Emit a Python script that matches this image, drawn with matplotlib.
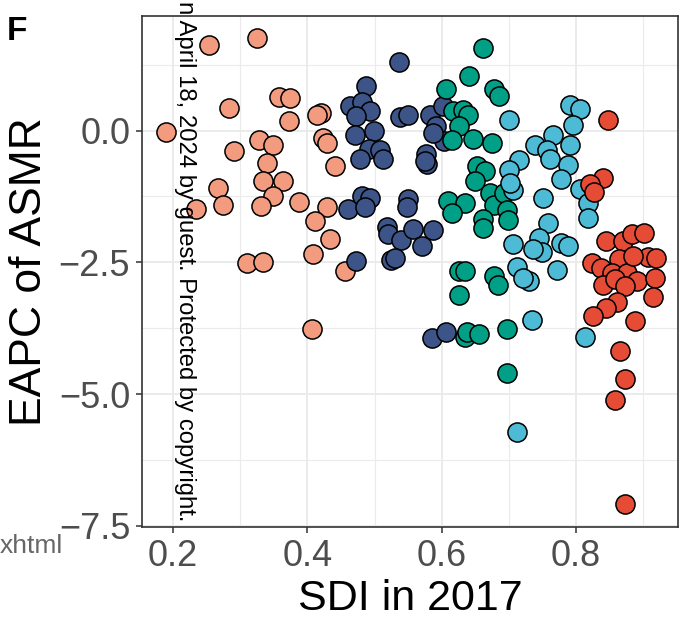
import matplotlib
matplotlib.use("Agg")
import matplotlib.pyplot as plt
from matplotlib.ticker import MultipleLocator

plt.rcParams['font.family'] = ['Liberation Sans', 'DejaVu Sans']

# SDI quintile groups (x = SDI in 2017, y = EAPC of ASMR)
low_x = [0.253, 0.325, 0.358, 0.374, 0.284, 0.421, 0.414, 0.373, 0.190, 0.328,
         0.349, 0.424, 0.429, 0.291, 0.340, 0.441, 0.334, 0.364, 0.267, 0.349,
         0.234, 0.275, 0.331, 0.388, 0.429, 0.411, 0.434, 0.409, 0.310, 0.334,
         0.456, 0.407]
low_y = [1.62, 1.76, 0.64, 0.61, 0.43, 0.34, 0.29, 0.18, -0.02, -0.18,
         -0.28, -0.14, -0.23, -0.39, -0.61, -0.68, -0.95, -0.96, -1.09, -1.24,
         -1.48, -1.42, -1.43, -1.36, -1.45, -1.72, -2.05, -2.34, -2.51, -2.50,
         -2.66, -3.76]

lowmid_x = [0.537, 0.488, 0.463, 0.481, 0.493, 0.473, 0.538, 0.550, 0.583, 0.592,
            0.602, 0.603, 0.587, 0.471, 0.499, 0.492, 0.508, 0.478, 0.513, 0.576,
            0.578, 0.575, 0.481, 0.493, 0.461, 0.486, 0.550, 0.549, 0.519, 0.520,
            0.540, 0.557, 0.570, 0.587, 0.525, 0.530, 0.472, 0.585, 0.607]
lowmid_y = [1.31, 0.84, 0.47, 0.55, 0.37, 0.27, 0.26, 0.30, 0.29, 0.09,
            0.47, -0.20, -0.04, -0.08, -0.01, -0.34, -0.36, -0.54, -0.54, -0.44,
            -0.64, -0.58, -1.24, -1.27, -1.48, -1.45, -1.29, -1.45, -1.82, -1.97,
            -2.08, -1.86, -2.19, -1.89, -2.46, -2.41, -2.48, -3.93, -3.82]

mid_x = [0.662, 0.641, 0.607, 0.677, 0.685, 0.617, 0.632, 0.639, 0.625, 0.615,
         0.647, 0.675, 0.652, 0.664, 0.649, 0.672, 0.677, 0.661, 0.662, 0.692,
         0.697, 0.699, 0.610, 0.635, 0.615, 0.625, 0.635, 0.677, 0.684, 0.626,
         0.697, 0.635, 0.638, 0.655, 0.697]
mid_y = [1.57, 1.04, 0.78, 0.78, 0.65, 0.37, 0.40, 0.30, 0.08, -0.17,
         -0.16, -0.23, -0.68, -0.76, -0.96, -1.18, -1.42, -1.67, -1.84, -1.18,
         -1.50, -1.69, -1.34, -1.38, -1.56, -2.66, -2.66, -2.76, -2.93, -3.12,
         -3.76, -3.91, -3.83, -3.86, -4.60]

highmid_x = [0.700, 0.791, 0.806, 0.795, 0.766, 0.739, 0.756, 0.761, 0.791, 0.715,
             0.700, 0.706, 0.701, 0.788, 0.778, 0.805, 0.818, 0.817, 0.751, 0.758,
             0.744, 0.706, 0.749, 0.736, 0.778, 0.788, 0.712, 0.730, 0.721, 0.772,
             0.735, 0.813, 0.712]
highmid_y = [0.21, 0.49, 0.41, 0.11, -0.08, -0.27, -0.36, -0.54, -0.27, -0.55,
             -0.74, -1.12, -0.99, -0.66, -0.91, -1.10, -1.37, -1.65, -1.27, -1.75,
             -2.03, -2.16, -2.30, -2.25, -2.13, -2.18, -2.58, -2.86, -2.79, -2.65,
             -3.60, -3.91, -5.71]

high_x = [0.848, 0.840, 0.821, 0.827, 0.844, 0.869, 0.883, 0.901, 0.863, 0.907,
          0.919, 0.823, 0.837, 0.853, 0.876, 0.890, 0.918, 0.840, 0.858, 0.873,
          0.915, 0.861, 0.844, 0.825, 0.887, 0.885, 0.865, 0.873, 0.858, 0.873]
high_y = [0.21, -0.90, -1.02, -1.17, -2.10, -2.10, -1.97, -1.94, -2.44, -2.40,
          -2.41, -2.51, -2.60, -2.70, -2.71, -2.85, -2.79, -2.93, -2.82, -2.95,
          -3.15, -3.26, -3.36, -3.52, -3.61, -2.38, -4.18, -4.72, -5.11, -7.08]

groups = [(low_x, low_y, '#F39B7F'),
          (lowmid_x, lowmid_y, '#3C5488'),
          (mid_x, mid_y, '#00A087'),
          (highmid_x, highmid_y, '#4DBBD5'),
          (high_x, high_y, '#E64B35')]

x_ticks = [0.2, 0.4, 0.6, 0.8]
x_labels = ['0.2', '0.4', '0.6', '0.8']
y_ticks = [-7.5, -5.0, -2.5, 0.0]
y_labels = ['\u22127.5', '\u22125.0', '\u22122.5', '0.0']

fig = plt.figure(figsize=(6.83, 6.32), dpi=100)
ax = fig.add_axes([142 / 683, (632 - 527) / 632, (678 - 142) / 683, (527 - 15.7) / 632])

for gx, gy, col in groups:
    ax.scatter(gx, gy, s=190, c=col, edgecolors='black', linewidths=1.1, zorder=3)

ax.set_xlim(0.154, 0.9515)
ax.set_ylim(-7.52, 2.18)
ax.set_xticks(x_ticks)
ax.set_yticks(y_ticks)
ax.set_xticklabels(x_labels)
ax.set_yticklabels(y_labels)
ax.xaxis.set_minor_locator(MultipleLocator(0.1))
ax.yaxis.set_minor_locator(MultipleLocator(1.25))

ax.grid(True, which='major', color='#EBEBEB', linewidth=1.4, zorder=0)
ax.grid(True, which='minor', color='#EBEBEB', linewidth=0.8, zorder=0)
ax.set_axisbelow(True)
for sp in ax.spines.values():
    sp.set_color('#333333')
    sp.set_linewidth(1.2)

ax.tick_params(which='major', length=4.5, width=1.1, color='#333333',
               labelsize=26, labelcolor='#4D4D4D', pad=4)
ax.tick_params(which='minor', length=0)

ax.set_xlabel('SDI in 2017', fontsize=31, color='black', labelpad=4)
ax.set_ylabel('EAPC of ASMR', fontsize=32, color='black', labelpad=6)

fig.text(7 / 683, 1 - 40 / 632, 'F', fontsize=24, fontweight='bold', color='black')
fig.text(185 / 683, 1 - 1 / 632, 'n April 18, 2024 by guest. Protected by copyright.',
         rotation=-90, ha='center', va='top', fontsize=17.2, color='black')
fig.text(0, 1 - 553 / 632, 'xhtml', fontsize=19, color='#666666', ha='left', va='baseline')

fig.savefig('out.png', dpi=100)
